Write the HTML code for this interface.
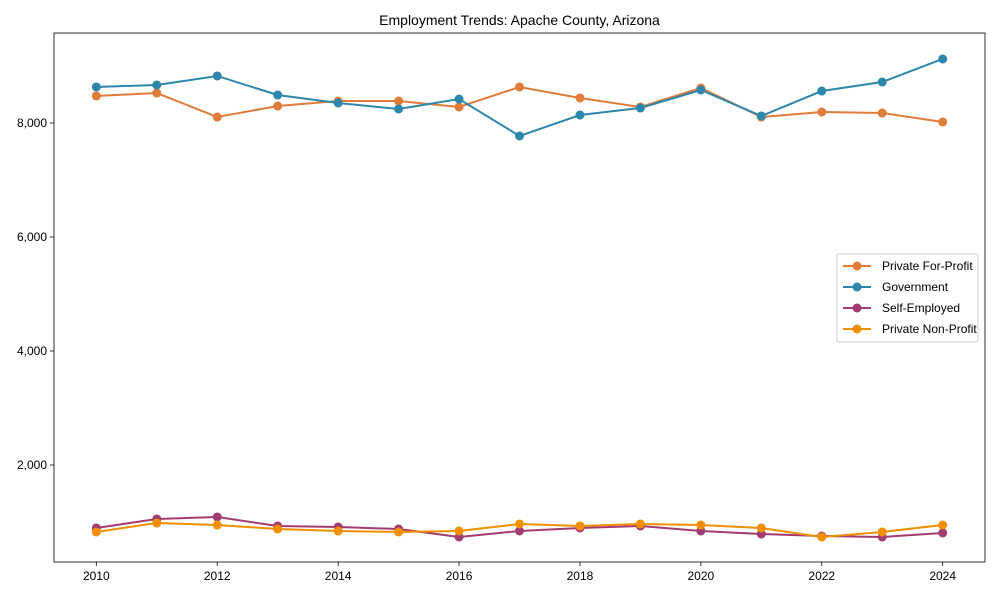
<!DOCTYPE html>
<html><head><meta charset="utf-8"><style>
body{margin:0;background:#fff;font-family:"Liberation Sans",Arial,sans-serif;}
svg text{font-family:"Liberation Sans",Arial,sans-serif;}
</style></head><body>
<svg id="chart" width="1000" height="600"></svg>
<script>
const years=[2010,2011,2012,2013,2014,2015,2016,2017,2018,2019,2020,2021,2022,2023,2024];
const privateForProfit=[8474,8526,8105,8298,8386,8386,8281,8632,8439,8281,8614,8105,8193,8175,8018];
const government=[8632,8667,8825,8491,8351,8246,8421,7772,8140,8263,8579,8123,8561,8719,9123];
const selfEmployed=[895,1053,1088,930,912,877,737,842,895,930,842,789,754,737,807];
const privateNonProfit=[825,982,947,877,842,825,842,965,930,965,947,895,737,825,947];
const xTicks=[2010,2012,2014,2016,2018,2020,2022,2024];
const yTicks=[2000,4000,6000,8000];
const seriesNames=["Private For-Profit","Government","Self-Employed","Private Non-Profit"];
const seriesColors=["#E07B39","#2E86AB","#A23B72","#F18F01"];
const seriesData=[privateForProfit,government,selfEmployed,privateNonProfit];

const NS="http://www.w3.org/2000/svg";
const svg=document.getElementById('chart');
const L=54,R=985,T=33,B=562;
const xMin=2009.3,xMax=2024.7,yMin=298,yMax=9579;
const xs=v=>L+(v-xMin)/(xMax-xMin)*(R-L);
const ys=v=>B-(v-yMin)/(yMax-yMin)*(B-T);
function mk(tag,attrs,parent){const e=document.createElementNS(NS,tag);for(const k in attrs)e.setAttribute(k,attrs[k]);(parent||svg).appendChild(e);return e;}

const title=mk('text',{x:(L+R)/2,y:25,'text-anchor':'middle','font-size':14});
title.textContent="Employment Trends: Apache County, Arizona";



const frame=mk('rect',{x:L,y:T,width:R-L,height:B-T,fill:'none',stroke:'#000','stroke-width':0.8});



xTicks.forEach(t=>{
  const x=xs(t);
  const tk=mk('line',{x1:x,x2:x,y1:B,y2:B+4,stroke:'#000','stroke-width':0.8});
  
  
  const lb=mk('text',{x:x,y:B+18,'text-anchor':'middle','font-size':12});
  lb.textContent=t;
  
  
});
yTicks.forEach(t=>{
  const y=ys(t);
  const tk=mk('line',{x1:L-4,x2:L,y1:y,y2:y,stroke:'#000','stroke-width':0.8});
  
  
  const lb=mk('text',{x:L-7,y:y+4,'text-anchor':'end','font-size':12});
  lb.textContent=t.toLocaleString('en-US');
  
  
});

seriesData.forEach((d,i)=>{
  const g=mk('g',{});
  
  
  const pts=d.map((v,j)=>xs(years[j])+','+ys(v)).join(' ');
  const pl=mk('polyline',{points:pts,fill:'none',stroke:seriesColors[i],'stroke-width':2},g);
  
  
  d.forEach((v,j)=>{
    const c=mk('circle',{cx:xs(years[j]),cy:ys(v),r:4.5,fill:seriesColors[i]},g);
    
    
  });
});

const lg=mk('g',{});


mk('rect',{x:837,y:254,width:141,height:88,fill:'#fff',stroke:'#ccc','stroke-width':1,rx:2},lg);
seriesNames.forEach((n,i)=>{
  const y=266+i*21;
  const e=mk('g',{},lg);
  
  
  mk('line',{x1:843,x2:871,y1:y,y2:y,stroke:seriesColors[i],'stroke-width':2},e);
  mk('circle',{cx:857,cy:y,r:4.5,fill:seriesColors[i]},e);
  const t=mk('text',{x:882,y:y+4,'font-size':12},e);
  t.textContent=n;
});
</script>
</body></html>
